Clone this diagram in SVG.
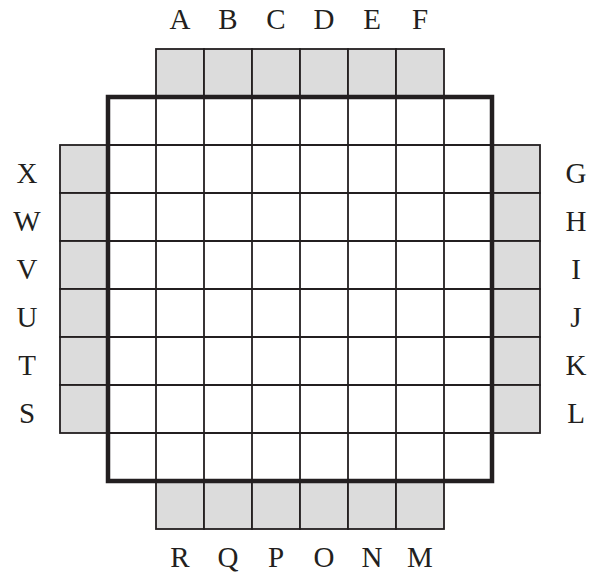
<svg xmlns="http://www.w3.org/2000/svg" width="589" height="575" viewBox="0 0 589 575">
<style>
.g{fill:#dcdcdc;stroke:#231f20;stroke-width:1.8}
.w{fill:#fff;stroke:#231f20;stroke-width:1.8}
.b{fill:none;stroke:#231f20;stroke-width:4.5}
text{font-family:"Liberation Serif","Times New Roman",serif;font-size:29px;fill:#231f20;text-anchor:middle}
</style>
<rect width="589" height="575" fill="#fff"/>
<g id="board">
<g id="top-cells">
<rect class="g" x="156" y="49" width="48" height="48"/>
<rect class="g" x="204" y="49" width="48" height="48"/>
<rect class="g" x="252" y="49" width="48" height="48"/>
<rect class="g" x="300" y="49" width="48" height="48"/>
<rect class="g" x="348" y="49" width="48" height="48"/>
<rect class="g" x="396" y="49" width="48" height="48"/>
</g>
<g id="bottom-cells">
<rect class="g" x="156" y="481" width="48" height="48"/>
<rect class="g" x="204" y="481" width="48" height="48"/>
<rect class="g" x="252" y="481" width="48" height="48"/>
<rect class="g" x="300" y="481" width="48" height="48"/>
<rect class="g" x="348" y="481" width="48" height="48"/>
<rect class="g" x="396" y="481" width="48" height="48"/>
</g>
<g id="left-cells">
<rect class="g" x="60" y="145" width="48" height="48"/>
<rect class="g" x="60" y="193" width="48" height="48"/>
<rect class="g" x="60" y="241" width="48" height="48"/>
<rect class="g" x="60" y="289" width="48" height="48"/>
<rect class="g" x="60" y="337" width="48" height="48"/>
<rect class="g" x="60" y="385" width="48" height="48"/>
</g>
<g id="right-cells">
<rect class="g" x="492" y="145" width="48" height="48"/>
<rect class="g" x="492" y="193" width="48" height="48"/>
<rect class="g" x="492" y="241" width="48" height="48"/>
<rect class="g" x="492" y="289" width="48" height="48"/>
<rect class="g" x="492" y="337" width="48" height="48"/>
<rect class="g" x="492" y="385" width="48" height="48"/>
</g>
<g id="grid">
<rect class="w" x="108" y="97" width="384" height="384"/>
<path fill="none" stroke="#231f20" stroke-width="1.8" d="M156 97V481M204 97V481M252 97V481M300 97V481M348 97V481M396 97V481M444 97V481M108 145H492M108 193H492M108 241H492M108 289H492M108 337H492M108 385H492M108 433H492"/>
<rect class="b" x="108" y="97" width="384" height="384"/>
</g>
</g>
<g id="labels">
<text x="180" y="29">A</text>
<text x="228" y="29">B</text>
<text x="276" y="29">C</text>
<text x="324" y="29">D</text>
<text x="372" y="29">E</text>
<text x="420" y="29">F</text>
<text x="576" y="183">G</text>
<text x="576" y="231">H</text>
<text x="576" y="279">I</text>
<text x="576" y="327">J</text>
<text x="576" y="375">K</text>
<text x="576" y="423">L</text>
<text x="420" y="567">M</text>
<text x="372" y="567">N</text>
<text x="324" y="567">O</text>
<text x="276" y="567">P</text>
<text x="228" y="567">Q</text>
<text x="180" y="567">R</text>
<text x="27" y="423">S</text>
<text x="27" y="375">T</text>
<text x="27" y="327">U</text>
<text x="27" y="279">V</text>
<text x="27" y="231">W</text>
<text x="27" y="183">X</text>
</g>
</svg>
